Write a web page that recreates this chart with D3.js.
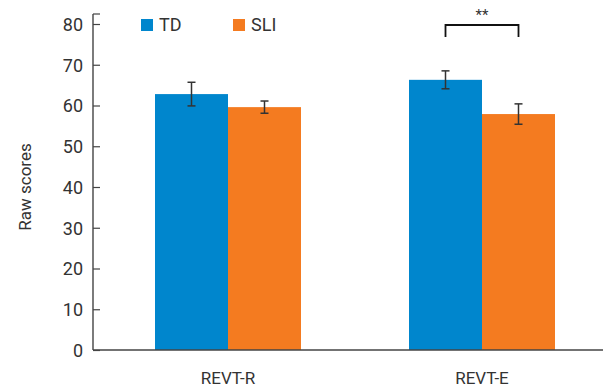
<!DOCTYPE html>
<html>
<head>
<meta charset="utf-8">
<script src="https://cdn.jsdelivr.net/npm/d3@7"></script>
<style>
  body { margin: 0; background: #fff; }
  svg { display: block; }
  text { font-family: "Roboto", "DejaVu Sans Condensed", sans-serif; fill: #333; }
</style>
</head>
<body>
<svg id="chart" width="603" height="388"></svg>
<script>
// Raw vocabulary test scores by group
const categories = ["REVT-R", "REVT-E"];
const groups = ["TD", "SLI"];
const tdMeans = [62.8, 66.3];
const tdErr = [2.9, 2.2];
const sliMeans = [59.6, 57.9];
const sliErr = [1.5, 2.5];
const yTicks = [0, 10, 20, 30, 40, 50, 60, 70, 80];
const colors = ["#0086cd", "#f47b20"];

const svg = d3.select("#chart");
const W = 603, H = 388;
const axisX = 93, axisY = 350;

const y = d3.scaleLinear().domain([0, 80]).range([axisY, 24]);
const x0 = d3.scaleBand().domain(categories).range([101, 609]).paddingInner(0).paddingOuter(0);
const x1 = d3.scaleBand().domain(groups).range([0, 146]);
const groupOffset = (x0.bandwidth() - 146) / 2;

const rows = categories.map((c, i) => ({
  cat: c,
  vals: [
    { g: "TD", v: tdMeans[i], e: tdErr[i], color: colors[0] },
    { g: "SLI", v: sliMeans[i], e: sliErr[i], color: colors[1] }
  ]
}));

const g = svg.append("g");

const grp = g.selectAll(".grp").data(rows).join("g")
  .attr("transform", d => `translate(${x0(d.cat) + groupOffset},0)`);

grp.selectAll("rect").data(d => d.vals).join("rect")
  .attr("x", d => x1(d.g))
  .attr("width", x1.bandwidth())
  .attr("y", d => y(d.v))
  .attr("height", d => axisY - y(d.v))
  .attr("fill", d => d.color);

// error bars
const eb = grp.selectAll(".eb").data(d => d.vals).join("g")
  .attr("stroke", "#333").attr("stroke-width", 1.5);
eb.append("line")
  .attr("x1", d => x1(d.g) + x1.bandwidth() / 2)
  .attr("x2", d => x1(d.g) + x1.bandwidth() / 2)
  .attr("y1", d => y(d.v + d.e)).attr("y2", d => y(d.v - d.e));
eb.append("line")
  .attr("x1", d => x1(d.g) + x1.bandwidth() / 2 - 4)
  .attr("x2", d => x1(d.g) + x1.bandwidth() / 2 + 4)
  .attr("y1", d => y(d.v + d.e)).attr("y2", d => y(d.v + d.e));
eb.append("line")
  .attr("x1", d => x1(d.g) + x1.bandwidth() / 2 - 4)
  .attr("x2", d => x1(d.g) + x1.bandwidth() / 2 + 4)
  .attr("y1", d => y(d.v - d.e)).attr("y2", d => y(d.v - d.e));

// y axis
const yAxis = d3.axisRight(y).tickValues(yTicks).tickSize(7).tickFormat(d3.format("d"));
const ya = svg.append("g").attr("transform", `translate(${axisX},0)`).call(yAxis);
ya.select(".domain").remove();
ya.selectAll(".tick line").attr("stroke", "#444").attr("stroke-width", 1.2);
ya.selectAll(".tick text")
  .attr("x", -10).attr("dy", "0.36em")
  .attr("text-anchor", "end")
  .style("font-size", "18px").attr("fill", "#333");
svg.append("line").attr("x1", axisX).attr("x2", axisX).attr("y1", 14).attr("y2", axisY)
  .attr("stroke", "#444").attr("stroke-width", 1.4);
svg.append("line").attr("x1", axisX).attr("x2", 100).attr("y1", 14).attr("y2", 14)
  .attr("stroke", "#444").attr("stroke-width", 1.2);

// x axis
svg.append("line").attr("x1", axisX).attr("x2", W).attr("y1", axisY).attr("y2", axisY)
  .attr("stroke", "#444").attr("stroke-width", 1.4);
const xAxis = d3.axisBottom(x0).tickSize(0);
const xa = svg.append("g").attr("transform", `translate(0,${axisY})`).call(xAxis);
xa.select(".domain").remove();
xa.selectAll(".tick text").attr("y", 28).attr("dy", "0.35em")
  .style("font-size", "17px").attr("fill", "#333");

// y title
svg.append("text")
  .attr("transform", `translate(31,187) rotate(-90)`)
  .attr("text-anchor", "middle")
  .style("font-size", "17px")
  .text("Raw scores");

// legend
const leg = svg.append("g");
const legX = [141, 233];
groups.forEach((name, i) => {
  leg.append("rect").attr("x", legX[i]).attr("y", 19).attr("width", 12).attr("height", 12).attr("fill", colors[i]);
  leg.append("text").attr("x", legX[i] + 18).attr("y", 25).attr("dy", "0.36em")
    .style("font-size", "18px").text(name);
});

// significance bracket
const bx1 = x0("REVT-E") + groupOffset + x1("TD") + x1.bandwidth() / 2;
const bx2 = x0("REVT-E") + groupOffset + x1("SLI") + x1.bandwidth() / 2;
svg.append("path")
  .attr("d", `M${bx1},37 V25 H${bx2} V37`)
  .attr("fill", "none").attr("stroke", "#111").attr("stroke-width", 1.8);
svg.append("text").attr("x", (bx1 + bx2) / 2).attr("y", 20)
  .attr("text-anchor", "middle").style("font-size", "15px").attr("fill", "#222")
  .text("**");
</script>
</body>
</html>
